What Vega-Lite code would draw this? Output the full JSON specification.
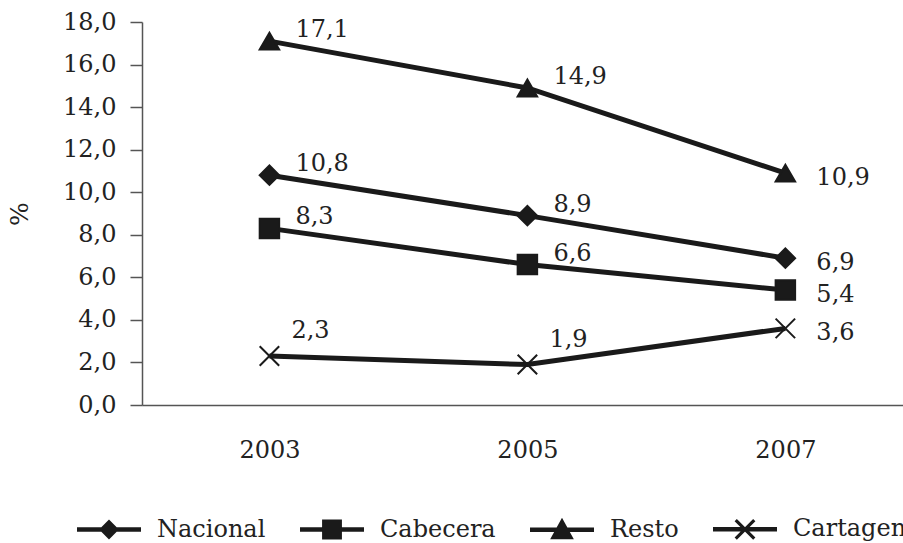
{
  "$schema": "https://vega.github.io/schema/vega-lite/v6.json",
  "width": 761,
  "height": 383,
  "autosize": {"type": "none"},
  "padding": {"left": 142, "top": 22, "right": 0, "bottom": 138},
  "background": "white",
  "config": {
    "locale": {"number": {"decimal": ",", "thousands": ".", "grouping": [3], "currency": ["", ""]}},
    "view": {"stroke": null},
    "font": "DejaVu Serif"
  },
  "data": {
    "values": [
      {"year": "2003", "serie": "Nacional", "value": 10.8},
      {"year": "2005", "serie": "Nacional", "value": 8.9},
      {"year": "2007", "serie": "Nacional", "value": 6.9},
      {"year": "2003", "serie": "Cabecera", "value": 8.3},
      {"year": "2005", "serie": "Cabecera", "value": 6.6},
      {"year": "2007", "serie": "Cabecera", "value": 5.4},
      {"year": "2003", "serie": "Resto", "value": 17.1},
      {"year": "2005", "serie": "Resto", "value": 14.9},
      {"year": "2007", "serie": "Resto", "value": 10.9},
      {"year": "2003", "serie": "Cartagena", "value": 2.3},
      {"year": "2005", "serie": "Cartagena", "value": 1.9},
      {"year": "2007", "serie": "Cartagena", "value": 3.6}
    ]
  },
  "encoding": {
    "x": {
      "field": "year",
      "type": "ordinal",
      "scale": {"type": "point", "padding": 0.475, "align": 0.52},
      "axis": {
        "title": null,
        "ticks": false,
        "labelPadding": 33,
        "labelAngle": 0,
        "domainColor": "#555",
        "domainWidth": 1.5,
        "labelFontSize": 24,
        "labelColor": "#222",
        "labelFont": "DejaVu Serif"
      }
    },
    "y": {
      "field": "value",
      "type": "quantitative",
      "scale": {"domain": [0, 18], "nice": false},
      "axis": {
        "title": "%",
        "values": [0, 2, 4, 6, 8, 10, 12, 14, 16, 18],
        "format": ".1f",
        "grid": false,
        "tickSize": 12,
        "labelPadding": 14,
        "titlePadding": 30,
        "domainColor": "#555",
        "tickColor": "#555",
        "domainWidth": 1.5,
        "tickWidth": 1.5,
        "labelFontSize": 24,
        "titleFontSize": 25,
        "titleFontWeight": "normal",
        "labelColor": "#222",
        "titleColor": "#222",
        "labelFont": "DejaVu Serif",
        "titleFont": "DejaVu Serif"
      }
    }
  },
  "layer": [
    {
      "mark": {"type": "line", "color": "#1a1a1a", "strokeWidth": 5},
      "encoding": {"detail": {"field": "serie"}}
    },
    {
      "mark": {"type": "point", "filled": true, "color": "#1a1a1a", "stroke": "#1a1a1a", "strokeWidth": 2, "size": 380, "opacity": 1},
      "encoding": {
        "shape": {
          "field": "serie",
          "type": "nominal",
          "scale": {
            "domain": ["Nacional", "Cabecera", "Resto", "Cartagena"],
            "range": ["diamond", "square", "triangle-up", "M-1,-1L1,1M-1,1L1,-1"]
          },
          "legend": null
        }
      }
    },
    {
      "transform": [{"filter": "datum.year != '2007' && datum.serie != 'Cartagena'"}],
      "mark": {"type": "text", "align": "left", "baseline": "middle", "dx": 26, "dy": -11, "fontSize": 24, "color": "#222", "font": "DejaVu Serif"},
      "encoding": {"text": {"field": "value", "type": "quantitative", "format": ".1f"}}
    },
    {
      "transform": [{"filter": "datum.year != '2007' && datum.serie == 'Cartagena'"}],
      "mark": {"type": "text", "align": "left", "baseline": "middle", "dx": 22, "dy": -25, "fontSize": 24, "color": "#222", "font": "DejaVu Serif"},
      "encoding": {"text": {"field": "value", "type": "quantitative", "format": ".1f"}}
    },
    {
      "transform": [{"filter": "datum.year == '2007'"}],
      "mark": {"type": "text", "align": "left", "baseline": "middle", "dx": 31, "dy": 5, "fontSize": 24, "color": "#222", "font": "DejaVu Serif"},
      "encoding": {"text": {"field": "value", "type": "quantitative", "format": ".1f"}}
    },
    {
      "transform": [{"filter": "false"}],
      "mark": {"type": "point", "filled": true, "color": "#1a1a1a", "stroke": "#1a1a1a", "strokeWidth": 2, "opacity": 1},
      "encoding": {
        "shape": {
          "field": "serie",
          "type": "nominal",
          "scale": {
            "domain": ["Nacional", "Cabecera", "Resto", "Cartagena"],
            "range": [
              "M-1,-0.07H1V0.07H-1Z M0,-0.31L0.31,0L0,0.31L-0.31,0Z",
              "M-1,-0.07H1V0.07H-1Z M-0.31,-0.31H0.31V0.31H-0.31Z",
              "M-1,-0.07H1V0.07H-1Z M0,-0.37L0.37,0.3H-0.37Z",
              "M-1,-0.07H1V0.07H-1Z M-0.255,-0.325L0.325,0.255L0.255,0.325L-0.325,-0.255Z M-0.255,0.325L-0.325,0.255L0.255,-0.325L0.325,-0.255Z"
            ]
          },
          "legend": {
            "title": null,
            "orient": "none",
            "direction": "horizontal",
            "legendX": -66,
            "legendY": 474,
            "padding": 0,
            "symbolSize": 4096,
            "symbolFillColor": "#1a1a1a",
            "symbolStrokeColor": "#1a1a1a",
            "symbolStrokeWidth": 2,
            "symbolOpacity": 1,
            "labelFontSize": 24,
            "labelFont": "DejaVu Serif",
            "labelColor": "#222",
            "labelOffset": 15,
            "columnPadding": 30,
            "labelLimit": 300
          }
        }
      }
    }
  ],
  "resolve": {"scale": {"shape": "independent"}}
}
